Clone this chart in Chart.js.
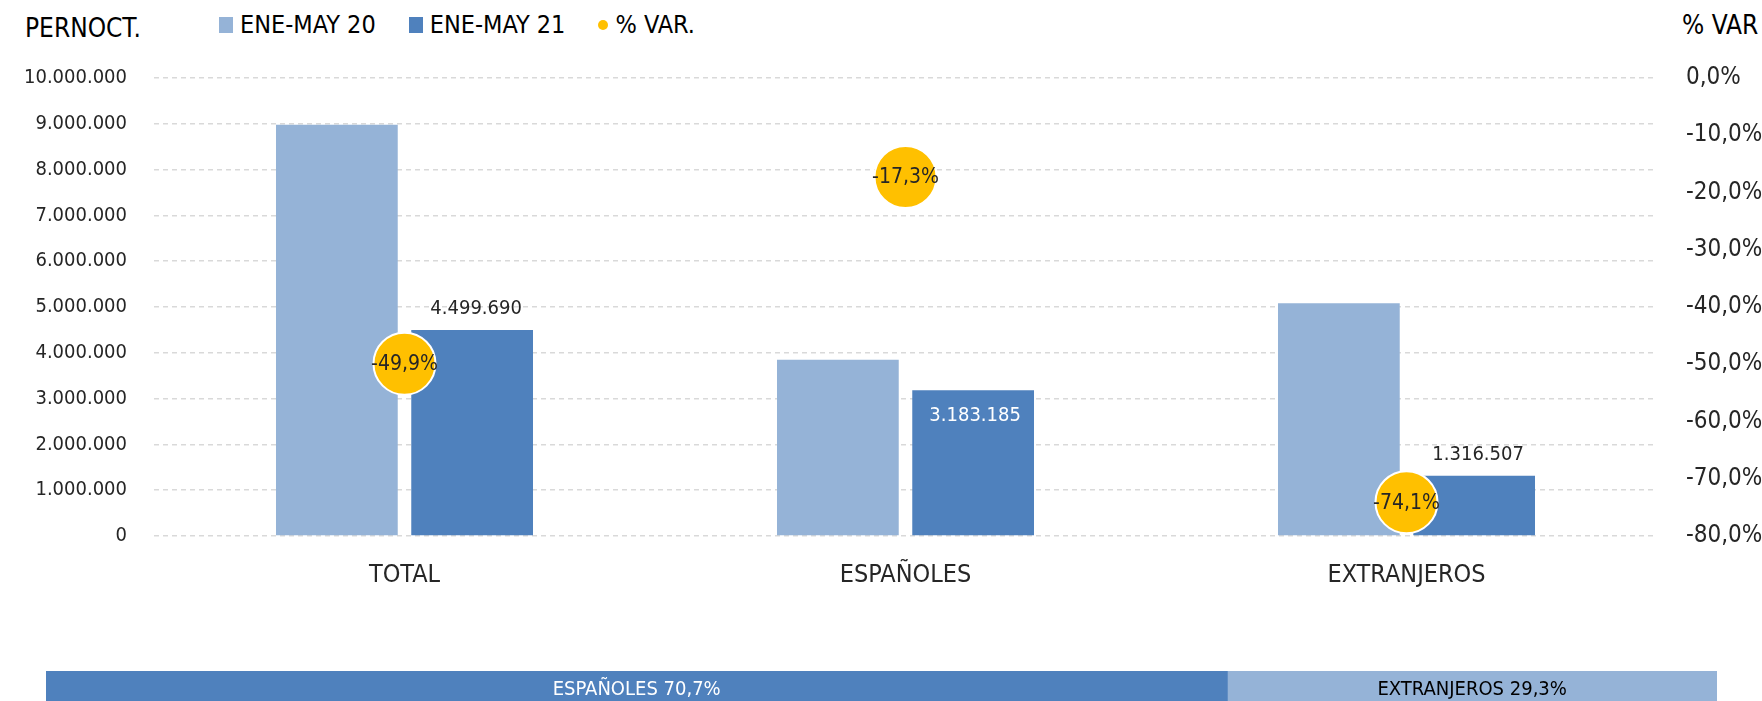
<!DOCTYPE html>
<html>
<head>
<meta charset="utf-8">
<script src="https://cdn.jsdelivr.net/npm/chart.js@4.4.1/dist/chart.umd.min.js"></script>
<style>
  html, body { margin: 0; padding: 0; background: #fff; overflow: hidden; }
  body { width: 1762px; height: 701px; position: relative; font-family: 'DejaVu Sans Condensed', sans-serif; }
  #main { position: absolute; left: 0; top: 0; }
  #share { position: absolute; left: 0; top: 640px; }
  .title { position: absolute; font-size: 26px; color: #000; line-height: 1; }
  #legend { position: absolute; left: 219px; top: 10px; display: flex; align-items: center; font-size: 25px; color: #000; }
  #legend .item { display: flex; align-items: center; margin-right: 33px; }
  #legend .sq { width: 14px; height: 16px; margin-right: 7px; }
  #legend .dot { width: 10px; height: 10px; border-radius: 50%; margin: 0 7px 0 0; }
</style>
</head>
<body>
<div class="title" style="left:25px; top:15px;">PERNOCT.</div>
<div class="title" style="left:1682px; top:12px;">% VAR</div>
<div id="legend"></div>
<canvas id="main" width="1762" height="600"></canvas>
<canvas id="share" width="1762" height="69"></canvas>
<script>
// datos
const categories = ['TOTAL', 'ESPAÑOLES', 'EXTRANJEROS'];
const pernoct20 = [8980000, 3850000, 5080000];
const pernoct21 = [4499690, 3183185, 1316507];
const varPct = [-49.9, -17.3, -74.1];
const shareLabels = ['ESPAÑOLES', 'EXTRANJEROS'];
const shareValues = [70.7, 29.3];

const LIGHT = '#95B3D7', DARK = '#4F81BD', YELLOW = '#FFC000';
const FONT = "'DejaVu Sans Condensed', sans-serif";
Chart.defaults.font.family = FONT;

function miles(v) { return String(Math.round(v)).replace(/\B(?=(\d{3})+(?!\d))/g, '.'); }
function pct(v) { return v.toFixed(1).replace('.', ',') + '%'; }

// where the value label of ENE-MAY 21 goes
const labelPlace = ['end', 'inside', 'end'];

const labelsPlugin = {
  id: 'labels',
  afterDatasetsDraw(chart) {
    const ctx = chart.ctx;
    ctx.save();
    ctx.textAlign = 'center';
    ctx.textBaseline = 'middle';
    // bar labels
    chart.getDatasetMeta(1).data.forEach((bar, i) => {
      ctx.font = '20px ' + FONT;
      if (labelPlace[i] === 'inside') {
        ctx.fillStyle = '#fff';
        ctx.fillText(miles(pernoct21[i]), bar.x + 2, bar.y + 26);
      } else {
        ctx.fillStyle = '#262626';
        ctx.fillText(miles(pernoct21[i]), bar.x + 4, bar.y - 21);
      }
    });
    // circle labels
    chart.getDatasetMeta(2).data.forEach((pt, i) => {
      ctx.font = '21px ' + FONT;
      ctx.fillStyle = '#262626';
      ctx.fillText(pct(varPct[i]), pt.x, pt.y + 1);
    });
    ctx.restore();
  }
};

const chart = new Chart(document.getElementById('main'), {
  type: 'bar',
  data: {
    labels: categories,
    datasets: [
      { label: 'ENE-MAY 20', data: pernoct20, backgroundColor: LIGHT, yAxisID: 'y', order: 1 },
      { label: 'ENE-MAY 21', data: pernoct21, backgroundColor: DARK, yAxisID: 'y', order: 1 },
      {
        label: '% VAR.', type: 'line', data: varPct, yAxisID: 'y1', order: 0,
        showLine: false, pointRadius: 31, pointHoverRadius: 31,
        pointBackgroundColor: YELLOW, pointBorderColor: '#fff', pointBorderWidth: 2,
        backgroundColor: YELLOW
      }
    ]
  },
  options: {
    responsive: false,
    devicePixelRatio: 1,
    animation: false,
    layout: { padding: { top: 78, bottom: 0, left: 0, right: 0 } },
    categoryPercentage: 0.54,
    barPercentage: 0.9,
    plugins: { legend: { display: false }, tooltip: { enabled: false } },
    scales: {
      x: {
        grid: { display: false, drawTicks: false },
        border: { display: false },
        ticks: { color: '#262626', font: { size: 25 }, padding: 24 },
        afterFit(s) { s.height = 64; }
      },
      y: {
        position: 'left',
        min: 0, max: 10000000,
        grid: { color: '#D9D9D9', lineWidth: 1.5, drawTicks: false },
        border: { display: false, dash: [5, 4] },
        ticks: { stepSize: 1000000, color: '#262626', font: { size: 20 }, padding: 27, callback: v => miles(v) },
        afterFit(s) { s.width = 154; }
      },
      y1: {
        position: 'right',
        min: -80, max: 0,
        grid: { display: false, drawTicks: false },
        border: { display: false },
        ticks: { stepSize: 10, color: '#262626', font: { size: 24 }, padding: 29, callback: v => pct(v) },
        afterFit(s) { s.width = 105; }
      }
    }
  },
  plugins: [labelsPlugin]
});

// leyenda
const legend = document.getElementById('legend');
chart.data.datasets.forEach(ds => {
  const item = document.createElement('div');
  item.className = 'item';
  const mark = document.createElement('span');
  mark.className = ds.type === 'line' ? 'dot' : 'sq';
  mark.style.background = ds.backgroundColor;
  item.appendChild(mark);
  item.appendChild(document.createTextNode(ds.label));
  legend.appendChild(item);
});

// barra de reparto
const shareText = {
  id: 'shareText',
  afterDatasetsDraw(c) {
    const ctx = c.ctx;
    ctx.save();
    ctx.font = '20px ' + FONT;
    ctx.textAlign = 'center';
    ctx.textBaseline = 'middle';
    c.data.datasets.forEach((ds, i) => {
      const bar = c.getDatasetMeta(i).data[0];
      ctx.fillStyle = i === 0 ? '#fff' : '#000';
      ctx.fillText(ds.label + ' ' + pct(ds.data[0]), (bar.x + bar.base) / 2, bar.y);
    });
    ctx.restore();
  }
};

new Chart(document.getElementById('share'), {
  type: 'bar',
  data: {
    labels: [''],
    datasets: shareLabels.map((l, i) => ({
      label: l, data: [shareValues[i]], backgroundColor: i === 0 ? DARK : LIGHT,
      barPercentage: 1, categoryPercentage: 1
    }))
  },
  options: {
    indexAxis: 'y',
    responsive: false,
    devicePixelRatio: 1,
    animation: false,
    layout: { padding: { top: 31, left: 46, right: 45, bottom: 0 } },
    plugins: { legend: { display: false }, tooltip: { enabled: false } },
    scales: {
      x: { stacked: true, min: 0, max: 100, display: false },
      y: { stacked: true, display: false }
    }
  },
  plugins: [shareText]
});
</script>
</body>
</html>
